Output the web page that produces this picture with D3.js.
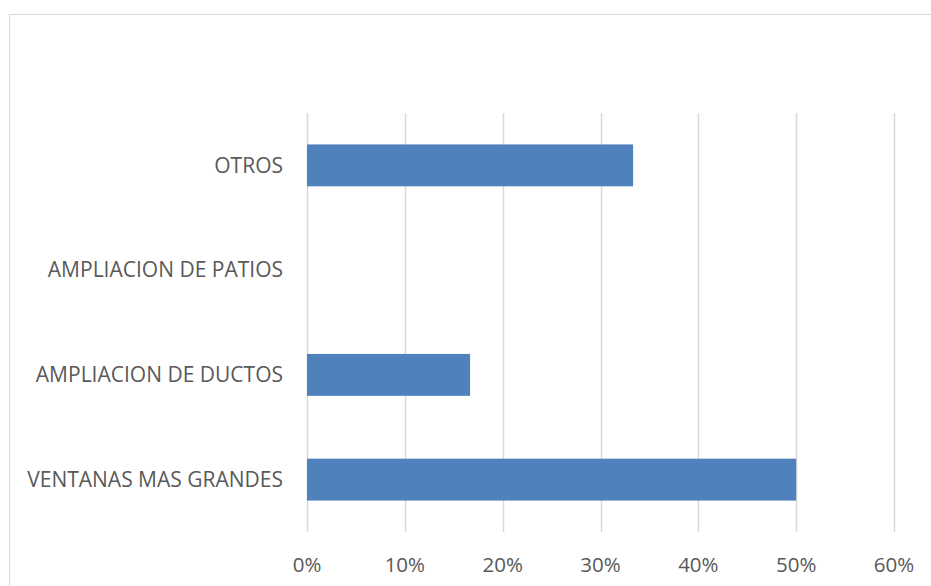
<!DOCTYPE html>
<html><head><meta charset="utf-8">
<script src="https://cdn.jsdelivr.net/npm/d3@7"></script>
<style>body{margin:0;background:#fff}svg{display:block}</style>
</head><body>
<svg id="c" width="931" height="586"></svg>
<script>
const categories = ["OTROS", "AMPLIACION DE PATIOS", "AMPLIACION DE DUCTOS", "VENTANAS MAS GRANDES"];
const values = [0.3333, 0, 0.1667, 0.5];
const tickValues = [0, 0.1, 0.2, 0.3, 0.4, 0.5, 0.6];

const svg = d3.select("#c");
const font = "'Open Sans', sans-serif";
svg.append("rect").attr("x", 9.5).attr("y", 14.5).attr("width", 1000).attr("height", 1000)
  .attr("fill", "#fff").attr("stroke", "#d9d9d9").attr("stroke-width", 1);

const x = d3.scaleLinear().domain([0, 0.6]).range([307, 894]);
const y = d3.scaleBand().domain(categories).range([113, 532]).paddingInner(0.6).paddingOuter(0.3);

svg.append("g").selectAll("line").data(tickValues).join("line")
  .attr("x1", d => Math.round(x(d)) + 0.5).attr("x2", d => Math.round(x(d)) + 0.5)
  .attr("y1", 113).attr("y2", 532).attr("stroke", "#d9d9d9").attr("stroke-width", 1.5);

svg.append("g").selectAll("rect").data(values).join("rect")
  .attr("x", x(0)).attr("y", (d, i) => y(categories[i]))
  .attr("width", d => x(d) - x(0)).attr("height", y.bandwidth())
  .attr("fill", "#4f81bd");

svg.append("g").selectAll("text").data(categories).join("text")
  .attr("x", 283).attr("y", d => y(d) + y.bandwidth() / 2).attr("dy", "0.35em")
  .attr("text-anchor", "end").attr("font-family", font).attr("font-size", 21)
  .attr("fill", "#595959").text(d => d);

svg.append("g").selectAll("text").data(tickValues).join("text")
  .attr("x", d => x(d)).attr("y", 565).attr("dy", "0.35em")
  .attr("text-anchor", "middle").attr("font-family", font).attr("font-size", 20.5)
  .attr("fill", "#595959").text(d => d3.format(".0%")(d));
</script>
</body></html>
